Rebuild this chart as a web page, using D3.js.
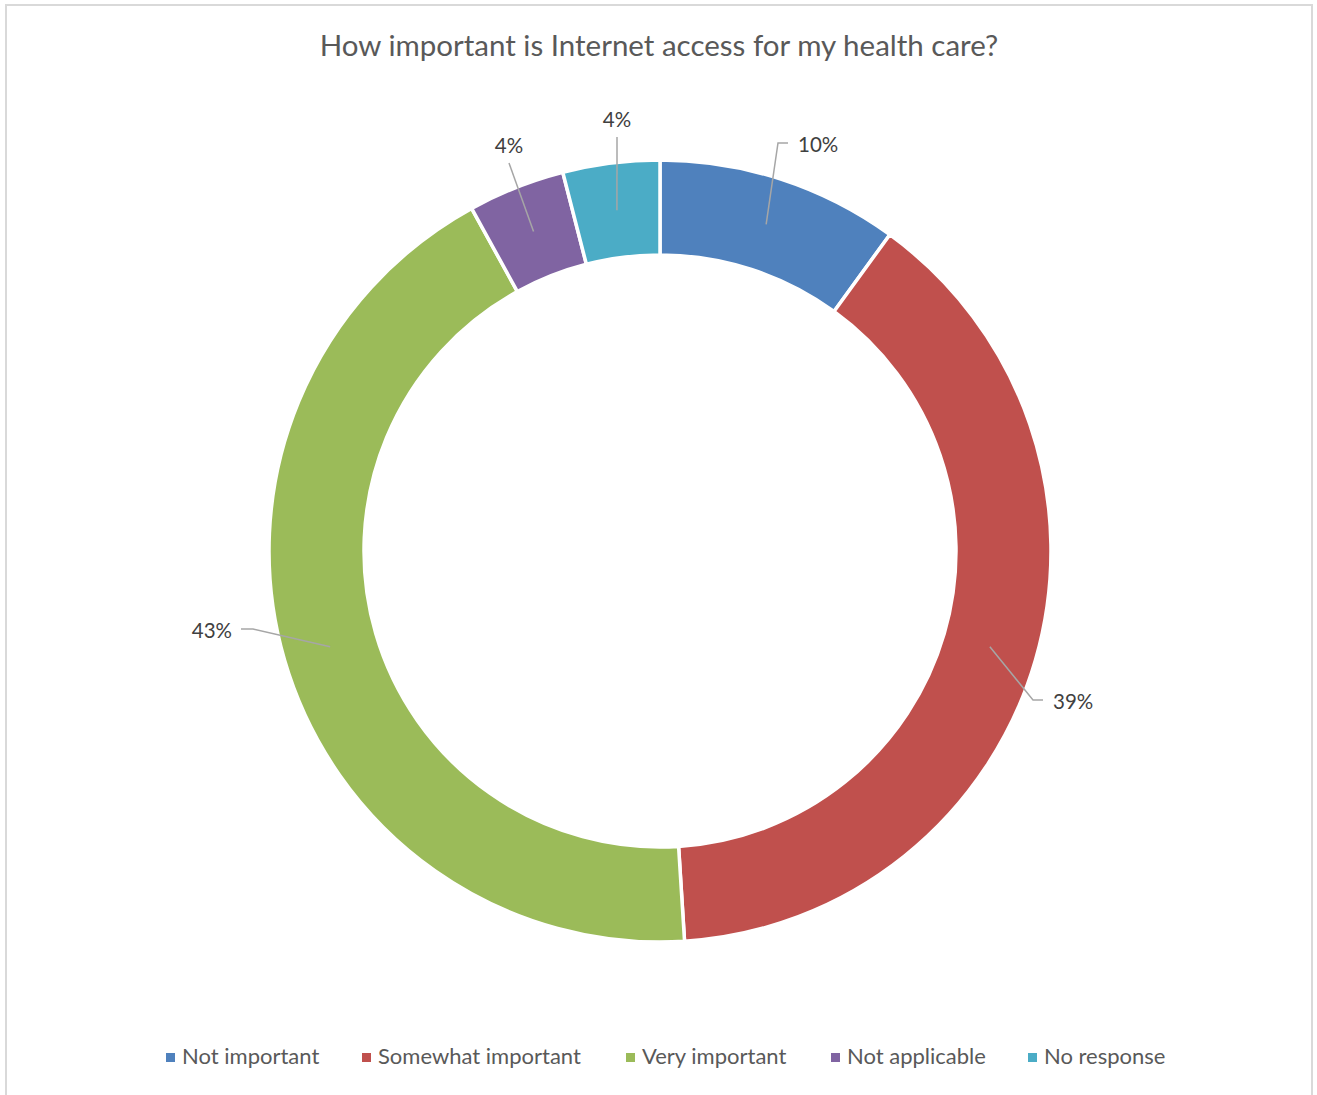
<!DOCTYPE html>
<html>
<head>
<meta charset="utf-8">
<script src="https://cdn.jsdelivr.net/npm/d3@7"></script>
<style>
  html, body { margin: 0; padding: 0; background: #ffffff; }
  svg { display: block; }
  text { font-family: Lato, "Open Sans", sans-serif; }
</style>
</head>
<body>
<svg id="chart" width="1317" height="1095"></svg>
<script>
// Survey responses: share of respondents per answer (percent)
const categories = ["Not important", "Somewhat important", "Very important", "Not applicable", "No response"];
const shares = [10, 39, 43, 4, 4];
const sliceColors = ["#4f81bd", "#c0504d", "#9bbb59", "#8064a2", "#4bacc6"];
const chartTitle = "How important is Internet access for my health care?";

const W = 1317, H = 1095;
const cx = 660, cy = 551;
const outerR = 391, innerR = 296;

const svg = d3.select("#chart");

// chart area frame
svg.append("rect")
  .attr("x", 6).attr("y", 5)
  .attr("width", 1306).attr("height", 1100)
  .attr("fill", "#ffffff")
  .attr("stroke", "#d9d9d9").attr("stroke-width", 2);

svg.append("text")
  .attr("x", 659).attr("y", 56)
  .attr("text-anchor", "middle")
  .attr("font-size", 29.5)
  .attr("fill", "#595959")
  .text(chartTitle);

const rows = categories.map((c, i) => ({ name: c, value: shares[i], color: sliceColors[i] }));

const pie = d3.pie().value(d => d.value).sort(null);
const arcs = pie(rows);
const arc = d3.arc().innerRadius(innerR).outerRadius(outerR);

const g = svg.append("g").attr("transform", `translate(${cx},${cy})`);

g.selectAll("path.slice")
  .data(arcs)
  .join("path")
  .attr("class", "slice")
  .attr("d", arc)
  .attr("fill", d => d.data.color)
  .attr("stroke", "#ffffff")
  .attr("stroke-width", 3.5)
  .attr("stroke-linejoin", "miter");

// label placement per slice: label anchor relative to centre, leader elbow style
const labelLayout = [
  { lx: 138, ly: -406, anchor: "start", elbow: "right" },
  { lx: 393, ly: 151, anchor: "start", elbow: "right" },
  { lx: -428, ly: 80, anchor: "end", elbow: "left" },
  { lx: -151, ly: -405, anchor: "middle", elbow: "none" },
  { lx: -43, ly: -431, anchor: "middle", elbow: "none" }
];

const midR = (innerR + outerR) / 2;
const polar = (a, r) => [Math.sin(a) * r, -Math.cos(a) * r];

arcs.forEach((d, i) => {
  const L = labelLayout[i];
  const mid = (d.startAngle + d.endAngle) / 2;
  const start = polar(mid, midR);
  let pts;
  if (L.elbow === "right") {
    const ex = L.lx - 20, ey = L.ly - 2;
    pts = [start, [ex, ey], [ex + 10, ey]];
  } else if (L.elbow === "left") {
    const ex = L.lx + 21, ey = L.ly - 2;
    pts = [start, [ex, ey], [ex - 12, ey]];
  } else {
    pts = [start, [L.lx, L.ly + 17]];
  }
  g.append("path")
    .attr("d", d3.line()(pts))
    .attr("fill", "none")
    .attr("stroke", "#a6a6a6")
    .attr("stroke-width", 1.5);

  g.append("text")
    .attr("x", L.lx).attr("y", L.ly)
    .attr("dy", "0.35em")
    .attr("text-anchor", L.anchor)
    .attr("font-size", 20.5)
    .attr("fill", "#404040")
    .text(d.data.value + "%");
});

// legend
const legendX = [166, 362, 626, 831, 1028];
const legend = svg.append("g");
rows.forEach((r, i) => {
  legend.append("rect")
    .attr("x", legendX[i]).attr("y", 1053)
    .attr("width", 9).attr("height", 9)
    .attr("fill", r.color);
  legend.append("text")
    .attr("x", legendX[i] + 16).attr("y", 1064)
    .attr("font-size", 22)
    .attr("fill", "#595959")
    .text(r.name);
});
</script>
</body>
</html>
